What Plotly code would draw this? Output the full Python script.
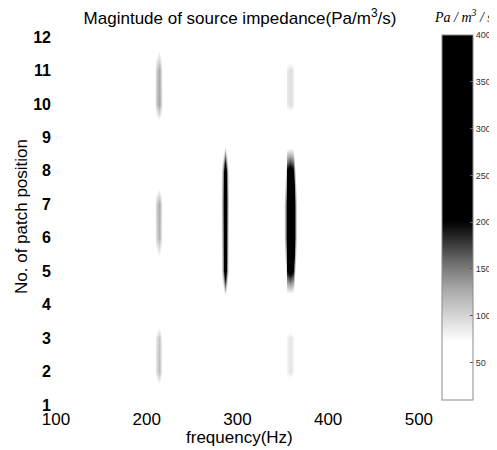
import plotly.graph_objects as go

# ---- data ----
frequency_hz = [100, 206, 210, 213, 216, 220, 280, 284, 286, 288, 292,
                349, 353, 355, 358, 361, 363, 367, 520]
patch_position = [1, 2, 3, 4, 5, 6, 7, 8, 9, 10, 11, 12]

# magnitude of source impedance (Pa/m^3/s), one list per patch position
imp_pos_1 = [0, 0, 0, 0, 0, 0, 0, 0, 0, 0, 0, 0, 0, 0, 0, 0, 0, 0, 0]
imp_pos_2 = [0, 0, 92, 115, 92, 0, 0, 0, 0, 0, 0, 0, 36, 81, 90, 81, 36, 0, 0]
imp_pos_3 = [0, 0, 88, 110, 88, 0, 0, 0, 0, 0, 0, 0, 36, 81, 90, 81, 36, 0, 0]
imp_pos_4 = [0, 0, 0, 0, 0, 0, 0, 0, 0, 0, 0, 0, 0, 0, 0, 0, 0, 0, 0]
imp_pos_5 = [0, 0, 32, 40, 32, 0, 0, 140, 260, 140, 0, 0, 88, 198, 220, 198, 88, 0, 0]
imp_pos_6 = [0, 0, 96, 120, 96, 0, 0, 150, 280, 150, 0, 0, 160, 360, 400, 360, 160, 0, 0]
imp_pos_7 = [0, 0, 100, 125, 100, 0, 0, 160, 300, 160, 0, 0, 160, 360, 400, 360, 160, 0, 0]
imp_pos_8 = [0, 0, 16, 20, 16, 0, 0, 140, 260, 140, 0, 0, 92, 207, 230, 207, 92, 0, 0]
imp_pos_9 = [0, 0, 16, 20, 16, 0, 0, 0, 0, 0, 0, 0, 0, 0, 0, 0, 0, 0, 0]
imp_pos_10 = [0, 0, 104, 130, 104, 0, 0, 0, 0, 0, 0, 0, 38, 86, 95, 86, 38, 0, 0]
imp_pos_11 = [0, 0, 100, 125, 100, 0, 0, 0, 0, 0, 0, 0, 38, 86, 95, 86, 38, 0, 0]
imp_pos_12 = [0, 0, 32, 40, 32, 0, 0, 0, 0, 0, 0, 0, 0, 0, 0, 0, 0, 0, 0]

x_tick_values = [100, 200, 300, 400, 500]
y_tick_values = [1, 2, 3, 4, 5, 6, 7, 8, 9, 10, 11, 12]
cbar_tick_values = [50, 100, 150, 200, 250, 300, 350, 400]
cbar_tick_labels = ["50", "100", "150", "200", "250", "300", "350", "400"]

z_matrix = [imp_pos_1, imp_pos_2, imp_pos_3, imp_pos_4, imp_pos_5, imp_pos_6,
            imp_pos_7, imp_pos_8, imp_pos_9, imp_pos_10, imp_pos_11, imp_pos_12]

gray_scale = [
    [0.0, "#ffffff"], [0.16, "#ffffff"], [0.23, "#d6d6d6"], [0.31, "#a4a4a4"],
    [0.38, "#6a6a6a"], [0.46, "#1a1a1a"], [0.49, "#000000"], [1.0, "#000000"],
]

# page body has an 8px default margin, so the figure is drawn 8px smaller
W, H = 489, 442
L, T = 48, 29
PW, PH = 381, 368

fig = go.Figure(go.Heatmap(
    x=frequency_hz, y=patch_position, z=z_matrix,
    zmin=10, zmax=400, zsmooth="best", colorscale=gray_scale,
    colorbar=dict(
        thickness=31, thicknessmode="pixels",
        len=365, lenmode="pixels",
        x=(442 - 8 - L) / PW, xanchor="left", xpad=0,
        y=1 + 2 / PH, yanchor="top", ypad=0,
        outlinewidth=1, outlinecolor="#8a8a8a",
        tickvals=cbar_tick_values, ticktext=cbar_tick_labels,
        ticks="inside", ticklen=3, tickcolor="#555",
        tickfont=dict(family="Liberation Sans", size=9, color="#333"),
    ),
))

fig.update_layout(
    width=W, height=H,
    margin=dict(l=L, r=W - L - PW, t=T, b=H - T - PH, pad=0, autoexpand=False),
    paper_bgcolor="white", plot_bgcolor="white",
    title=dict(
        text="Magintude of source impedance(Pa/m<sup>3</sup>/s)",
        x=(240 - 8) / W, xanchor="center", xref="container",
        y=1 - (18 - 8) / H, yanchor="middle", yref="container",
        font=dict(family="Liberation Sans", size=17, color="black"),
    ),
    xaxis=dict(
        range=[100, 520], tickvals=x_tick_values, showgrid=False, zeroline=False,
        showline=False, ticks="", ticklabelstandoff=2,
        tickfont=dict(family="Liberation Sans", size=17, color="black"),
    ),
    yaxis=dict(
        range=[1, 12], tickvals=y_tick_values, showgrid=False, zeroline=False,
        showline=False, ticks="", ticklabelstandoff=4,
        tickfont=dict(family="Liberation Sans", size=16, color="black", weight="bold"),
    ),
    annotations=[
        dict(text="frequency(Hz)", xref="paper", yref="paper",
             x=(239 - 8 - L) / PW, y=-(437 - 8 - T - PH) / PH, xanchor="center", yanchor="middle",
             showarrow=False, font=dict(family="Liberation Sans", size=17, color="black")),
        dict(text="No. of patch position", xref="paper", yref="paper",
             x=-(L - (22 - 8)) / PW, y=(T + PH - (217 - 8)) / PH, xanchor="center", yanchor="middle",
             textangle=-90, showarrow=False,
             font=dict(family="Liberation Sans", size=17, color="black")),
        dict(text="Pa / m<sup>3</sup> / s", xref="paper", yref="paper",
             x=(495 - 8 - L) / PW, y=(T + PH - (16 - 8)) / PH, xanchor="right", yanchor="middle",
             showarrow=False,
             font=dict(family="Liberation Serif", size=14, color="black", style="italic")),
    ],
)

fig.write_html("out.html")
